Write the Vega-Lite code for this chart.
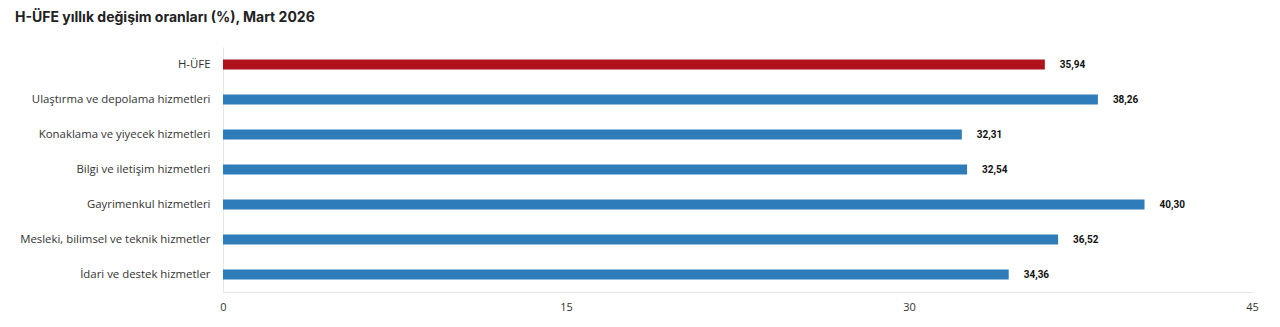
{
  "$schema": "https://vega.github.io/schema/vega-lite/v6.json",
  "width": 1029,
  "height": 245,
  "autosize": {"type": "none"},
  "padding": {"left": 223, "top": 47, "right": 28, "bottom": 35},
  "background": "#ffffff",
  "config": {
    "view": {"stroke": null},
    "locale": {"number": {"decimal": ",", "thousands": ".", "grouping": [3], "currency": ["", " TL"]}}
  },
  "title": {
    "text": "H-ÜFE yıllık değişim oranları (%), Mart 2026",
    "anchor": "start",
    "frame": "group",
    "dx": -208,
    "offset": 22,
    "font": "Inter",
    "fontSize": 14,
    "fontWeight": "bold",
    "color": "#222222"
  },
  "data": {
    "values": [
      {"kalem": "H-ÜFE", "oran": 35.94, "tur": "genel"},
      {"kalem": "Ulaştırma ve depolama hizmetleri", "oran": 38.26, "tur": "alt"},
      {"kalem": "Konaklama ve yiyecek hizmetleri", "oran": 32.31, "tur": "alt"},
      {"kalem": "Bilgi ve iletişim hizmetleri", "oran": 32.54, "tur": "alt"},
      {"kalem": "Gayrimenkul hizmetleri", "oran": 40.30, "tur": "alt"},
      {"kalem": "Mesleki, bilimsel ve teknik hizmetler", "oran": 36.52, "tur": "alt"},
      {"kalem": "İdari ve destek hizmetler", "oran": 34.36, "tur": "alt"}
    ]
  },
  "encoding": {
    "y": {
      "field": "kalem",
      "type": "nominal",
      "sort": null,
      "scale": {"paddingInner": 0.714, "paddingOuter": 0.357},
      "axis": {
        "title": null,
        "ticks": false,
        "domain": true,
        "domainColor": "#e6e6e6",
        "labelFont": "Open Sans",
        "labelFontSize": 11.4,
        "labelColor": "#333333",
        "labelPadding": 13,
        "labelLimit": 300
      }
    },
    "x": {
      "field": "oran",
      "type": "quantitative",
      "scale": {"domain": [0, 45], "nice": false},
      "axis": {
        "title": null,
        "values": [0, 15, 30, 45],
        "ticks": false,
        "grid": false,
        "domain": true,
        "domainColor": "#e6e6e6",
        "labelFont": "Open Sans",
        "labelFontSize": 11,
        "labelColor": "#333333",
        "labelPadding": 9,
        "labelFlush": false
      }
    }
  },
  "layer": [
    {
      "mark": {"type": "bar"},
      "encoding": {
        "color": {
          "field": "tur",
          "type": "nominal",
          "scale": {"domain": ["genel", "alt"], "range": ["#b0121b", "#2e7cb9"]},
          "legend": null
        }
      }
    },
    {
      "mark": {"type": "text", "align": "left", "dx": 15, "font": "Roboto", "fontSize": 10, "fontWeight": "bold", "color": "#111111"},
      "encoding": {
        "text": {"field": "oran", "type": "quantitative", "format": ".2f"}
      }
    }
  ]
}
